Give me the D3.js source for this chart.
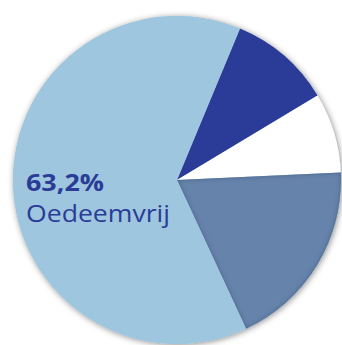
<!DOCTYPE html>
<html>
<head>
<meta charset="utf-8">
<script src="https://cdn.jsdelivr.net/npm/d3@7"></script>
<style>
  html, body { margin: 0; padding: 0; background: #fff; }
  svg { display: block; }
</style>
</head>
<body>
<svg id="chart" width="342" height="345"></svg>
<script>
// Share of patients per category (percent)
const categories = ["Ernstig oedeem", "Licht oedeem", "Matig oedeem", "Oedeemvrij"];
const values = [10.1, 7.9, 18.8, 63.2];
const colors = ["#2b3b98", "#ffffff", "#6683ab", "#9ec6df"];
const highlightLabel = { value: "63,2%", name: "Oedeemvrij" };

const W = 342, H = 345;
const cx = 177, cy = 180, R = 164;

const svg = d3.select("#chart");
const defs = svg.append("defs");

// Soft shadow around the whole pie
const drop = defs.append("filter").attr("id", "drop")
  .attr("x", "-20%").attr("y", "-20%").attr("width", "140%").attr("height", "140%");
drop.append("feDropShadow")
  .attr("dx", 1).attr("dy", 1).attr("stdDeviation", 3)
  .attr("flood-color", "#000").attr("flood-opacity", 0.45);

// Inner shadow that darkens the edges of a slice
const inner = defs.append("filter").attr("id", "inner")
  .attr("x", "-10%").attr("y", "-10%").attr("width", "120%").attr("height", "120%");
inner.append("feFlood").attr("flood-color", "#1d2d55").attr("flood-opacity", 0.55).attr("result", "c");
inner.append("feComposite").attr("in", "c").attr("in2", "SourceAlpha").attr("operator", "out").attr("result", "outside");
inner.append("feGaussianBlur").attr("in", "outside").attr("stdDeviation", 2.5).attr("result", "blur");
inner.append("feComposite").attr("in", "blur").attr("in2", "SourceAlpha").attr("operator", "in").attr("result", "shadow");
const merge = inner.append("feMerge");
merge.append("feMergeNode").attr("in", "SourceGraphic");
merge.append("feMergeNode").attr("in", "shadow");

const pie = d3.pie()
  .sort(null)
  .startAngle(22.6 * Math.PI / 180)
  .endAngle(22.6 * Math.PI / 180 + 2 * Math.PI)
  .value(d => d);

const arc = d3.arc().innerRadius(0).outerRadius(R);
const arcs = pie(values);

const g = svg.append("g").attr("transform", `translate(${cx},${cy})`);

// Disc carrying the outer shadow
g.append("circle").attr("r", R).attr("fill", "#9ec6df").attr("filter", "url(#drop)");

g.selectAll("path.slice")
  .data(arcs)
  .join("path")
  .attr("class", "slice")
  .attr("d", arc)
  .attr("fill", (d, i) => colors[i])
  .attr("filter", (d, i) => categories[i] === "Matig oedeem" ? "url(#inner)" : null);

// Label on the largest slice
const label = svg.append("g").attr("fill", "#2b3c97").attr("font-family", "'Open Sans', Lato, sans-serif");
label.append("text")
  .attr("x", 26).attr("y", 191)
  .attr("font-size", 24).attr("font-weight", 700)
  .attr("textLength", 78).attr("lengthAdjust", "spacingAndGlyphs")
  .text(highlightLabel.value);
label.append("text")
  .attr("x", 26).attr("y", 222)
  .attr("font-size", 24).attr("font-weight", 400)
  .attr("textLength", 144).attr("lengthAdjust", "spacingAndGlyphs")
  .text(highlightLabel.name);
</script>
</body>
</html>
